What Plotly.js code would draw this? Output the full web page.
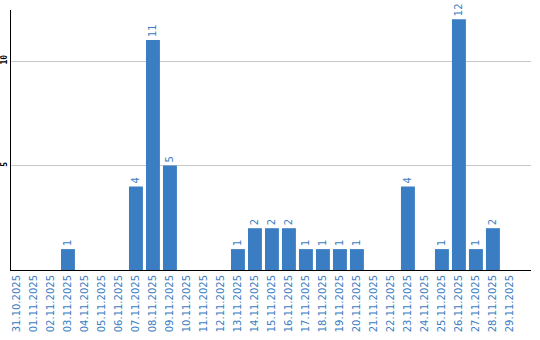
<!DOCTYPE html>
<html>
<head>
<meta charset="utf-8">
<script src="https://cdn.plot.ly/plotly-3.0.1.min.js"></script>
<style>html,body{margin:0;padding:0;background:#fff;}#chart{width:540px;height:340px;}</style>
</head>
<body>
<div id="chart"></div>
<script>
const categories = ["31.10.2025","01.11.2025","02.11.2025","03.11.2025","04.11.2025","05.11.2025","06.11.2025","07.11.2025","08.11.2025","09.11.2025","10.11.2025","11.11.2025","12.11.2025","13.11.2025","14.11.2025","15.11.2025","16.11.2025","17.11.2025","18.11.2025","19.11.2025","20.11.2025","21.11.2025","22.11.2025","23.11.2025","24.11.2025","25.11.2025","26.11.2025","27.11.2025","28.11.2025","29.11.2025"];
const counts = [0,0,0,1,0,0,0,4,11,5,0,0,0,1,2,2,2,1,1,1,1,0,0,4,0,1,12,1,2,0];
const yTicks = [5,10];

const blue = '#3a7dc2';
const trace = {
  type: 'bar',
  x: categories,
  y: counts,
  text: counts.map(v => v > 0 ? String(v) : ''),
  textposition: 'outside',
  textangle: -90,
  cliponaxis: false,
  textfont: {family: 'DejaVu Sans', size: 10, color: blue},
  marker: {color: blue},
  hoverinfo: 'none'
};
const layout = {
  width: 540, height: 340,
  margin: {l: 11, r: 9, t: 10, b: 70, pad: 0},
  paper_bgcolor: '#fff', plot_bgcolor: '#fff',
  showlegend: false,
  bargap: 0.18,
  xaxis: {
    type: 'category',
    range: [-0.35, 30.24],
    tickangle: -90,
    tickfont: {family: 'DejaVu Sans', size: 10, color: blue},
    showline: true, linecolor: '#000', linewidth: 1,
    showgrid: false, zeroline: false, ticks: '', ticklen: 0
  },
  yaxis: {
    range: [0, 12.44],
    tickvals: yTicks,
    ticktext: yTicks.map(String),
    tickangle: -90,
    tickfont: {family: 'DejaVu Sans Mono', size: 8, color: '#000', weight: 'bold'},
    showline: true, linecolor: '#000', linewidth: 1,
    showgrid: true, gridcolor: '#c8c8c8', gridwidth: 1,
    zeroline: false, ticks: ''
  }
};
Plotly.newPlot('chart', [trace], layout, {staticPlot: true, displayModeBar: false});
</script>
</body>
</html>
